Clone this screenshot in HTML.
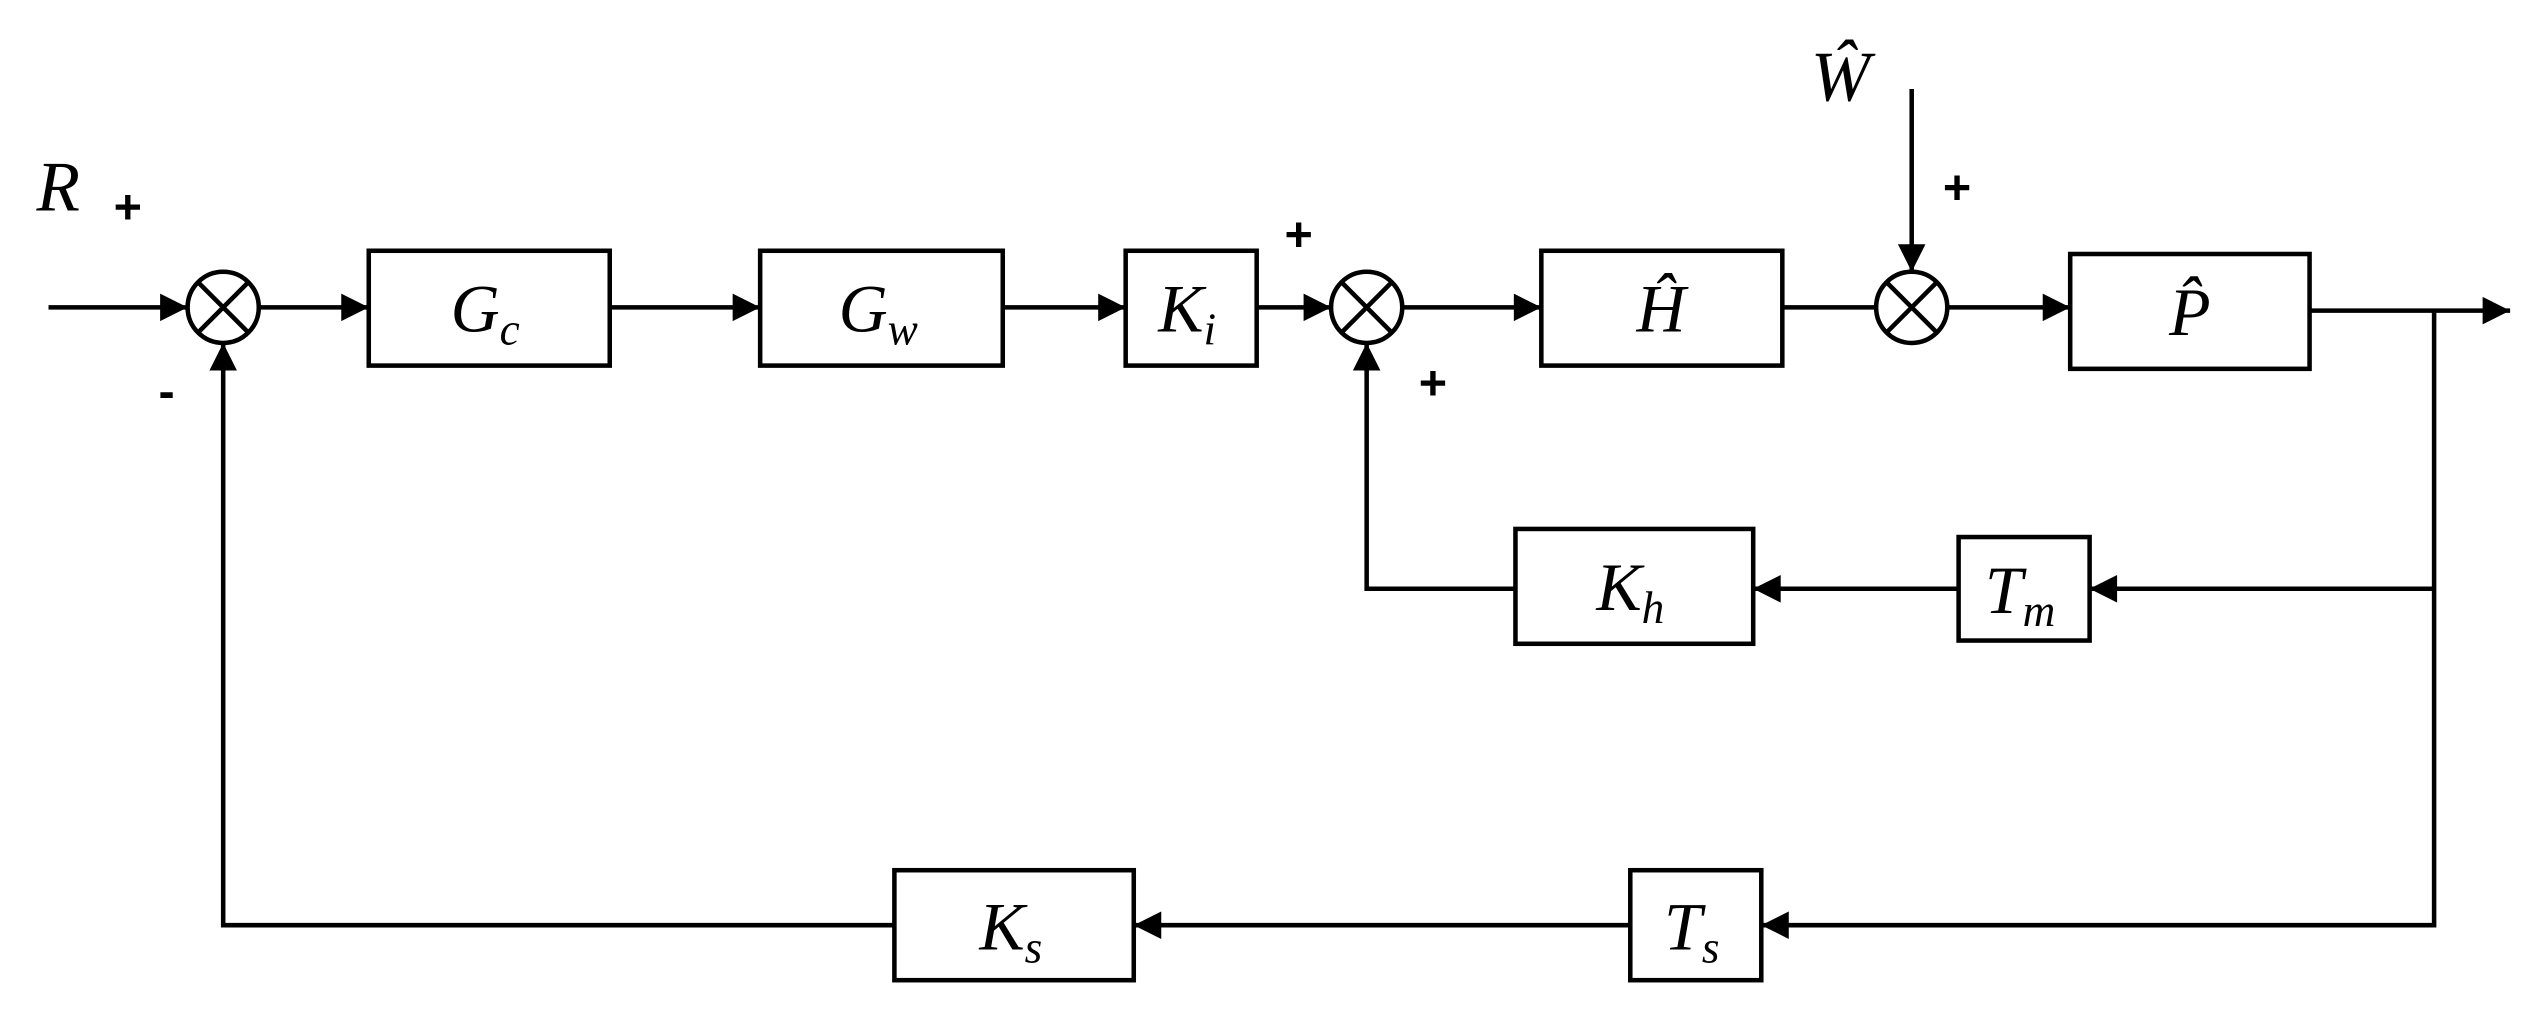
<!DOCTYPE html>
<html><head><meta charset="utf-8"><style>
html,body{margin:0;padding:0;background:#fff;}
svg{display:block;}
text{font-family:"Liberation Serif",serif;font-style:italic;fill:#000;}
.p{font-family:"Liberation Sans",sans-serif;font-style:normal;font-weight:bold;}
</style></head><body>
<svg width="2536" height="1011" viewBox="0 0 1568 625" xmlns="http://www.w3.org/2000/svg">
<defs><marker id="a" viewBox="0 0 10 10" refX="10" refY="5" markerWidth="23" markerHeight="17" markerUnits="userSpaceOnUse" orient="auto"><path d="M0,0 L10,5 L0,10 z" fill="#000"/></marker></defs>
<g stroke="#000" stroke-width="2.8" fill="none">
<circle cx="138" cy="190" r="22"/><path d="M122.4,174.4 L153.6,205.6 M153.6,174.4 L122.4,205.6"/>
<circle cx="845" cy="190" r="22"/><path d="M829.4,174.4 L860.6,205.6 M860.6,174.4 L829.4,205.6"/>
<circle cx="1182" cy="190" r="22"/><path d="M1166.4,174.4 L1197.6,205.6 M1197.6,174.4 L1166.4,205.6"/>
<rect x="228" y="155" width="149" height="71"/>
<rect x="470" y="155" width="150" height="71"/>
<rect x="696" y="155" width="81" height="71"/>
<rect x="953" y="155" width="149" height="71"/>
<rect x="1280" y="157" width="148" height="71"/>
<rect x="1211" y="332" width="81" height="64"/>
<rect x="937" y="327" width="147" height="71"/>
<rect x="1008" y="538" width="81" height="68"/>
<rect x="553" y="538" width="148" height="68"/>
<line x1="30" y1="190" x2="116" y2="190" marker-end="url(#a)"/>
<line x1="160" y1="190" x2="228" y2="190" marker-end="url(#a)"/>
<line x1="377" y1="190" x2="470" y2="190" marker-end="url(#a)"/>
<line x1="620" y1="190" x2="696" y2="190" marker-end="url(#a)"/>
<line x1="777" y1="190" x2="823" y2="190" marker-end="url(#a)"/>
<line x1="867" y1="190" x2="953" y2="190" marker-end="url(#a)"/>
<line x1="1102" y1="190" x2="1160" y2="190"/>
<line x1="1204" y1="190" x2="1280" y2="190" marker-end="url(#a)"/>
<line x1="1428" y1="192" x2="1552" y2="192" marker-end="url(#a)"/>
<line x1="1182" y1="55" x2="1182" y2="168" marker-end="url(#a)"/>
<polyline points="1505,192 1505,572 1089,572" marker-end="url(#a)"/>
<line x1="1505" y1="364" x2="1292" y2="364" marker-end="url(#a)"/>
<line x1="1211" y1="364" x2="1084" y2="364" marker-end="url(#a)"/>
<polyline points="937,364 845,364 845,212" marker-end="url(#a)"/>
<line x1="1008" y1="572" x2="701" y2="572" marker-end="url(#a)"/>
<polyline points="553,572 138,572 138,212" marker-end="url(#a)"/>
</g>
<g font-size="42" text-anchor="middle">
<text x="300" y="205">G<tspan font-size="28" dy="8">c</tspan></text>
<text x="543" y="205">G<tspan font-size="28" dy="8">w</tspan></text>
<text x="734" y="205">K<tspan font-size="28" dy="8">i</tspan></text>
<text x="1027" y="205">H&#770;</text>
<text x="1354" y="207">P&#770;</text>
<text x="1249" y="379">T<tspan font-size="28" dy="8">m</tspan></text>
<text x="1008" y="377">K<tspan font-size="28" dy="8">h</tspan></text>
<text x="1046" y="587">T<tspan font-size="28" dy="8">s</tspan></text>
<text x="625" y="587">K<tspan font-size="28" dy="8">s</tspan></text>
<text x="1138" y="62" font-size="44">W&#770;</text>
<text x="36" y="130" font-size="44">R</text>
</g>
<g font-size="30" text-anchor="middle">
<text class="p" x="79" y="138">+</text>
<text class="p" x="803" y="155">+</text>
<text class="p" x="886" y="247">+</text>
<text class="p" x="1210" y="126">+</text>
<text class="p" x="103" y="252">-</text>
</g>
</svg>
</body></html>
